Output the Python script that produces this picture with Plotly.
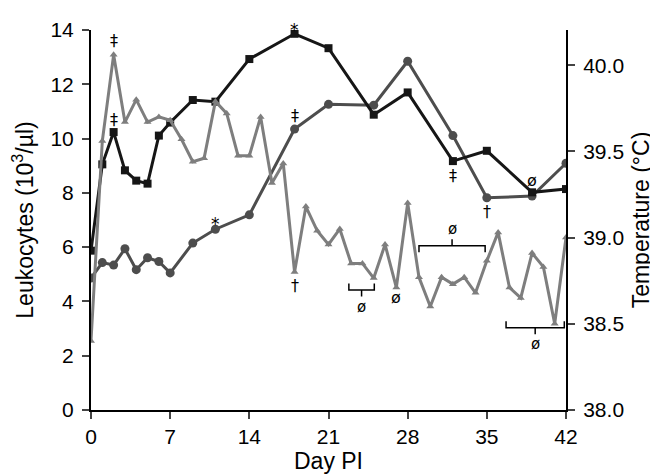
import plotly.graph_objects as go

# ---- data ----
days_sparse = [0, 1, 2, 3, 4, 5, 6, 7, 9, 11, 14, 18, 21, 25, 28, 32, 35, 39, 42]
leuko_black = [5.87, 9.05, 10.24, 8.83, 8.45, 8.34, 10.11, 10.59, 11.42, 11.36,
               12.93, 13.86, 13.33, 10.88, 11.70, 9.17, 9.55, 8.02, 8.14]
leuko_gray = [4.86, 5.43, 5.34, 5.94, 5.17, 5.61, 5.47, 5.05, 6.15, 6.66,
              7.19, 10.35, 11.26, 11.23, 12.85, 10.11, 7.82, 7.88, 9.09]
days_daily = list(range(0, 43))
temperature = [38.40, 39.56, 40.06, 39.67, 39.80, 39.67, 39.70, 39.68, 39.57, 39.44,
               39.46, 39.79, 39.72, 39.475, 39.475, 39.70, 39.316, 39.43, 38.80, 39.18,
               39.04, 38.96, 39.05, 38.85, 38.85, 38.765, 38.96, 38.71, 39.20, 38.77,
               38.60, 38.77, 38.73, 38.77, 38.68, 38.865, 39.03, 38.71, 38.65, 38.91,
               38.83, 38.50, 39.00]
x_ticks = [0, 7, 14, 21, 28, 35, 42]
y_ticks = [0, 2, 4, 6, 8, 10, 12, 14]
y2_ticks = [38.0, 38.5, 39.0, 39.5, 40.0]
y2_labels = ["38.0", "38.5", "39.0", "39.5", "40.0"]

# symbol marks: (series, day, symbol, yshift)
marks = [
    ("temp", 2, "‡", 14), ("black", 2, "‡", 13), ("black", 18, "*", 4),
    ("gray", 18, "‡", 14), ("gray", 11, "*", 5), ("black", 32, "‡", -14),
    ("gray", 35, "†", -14), ("black", 39, "ø", 12), ("temp", 18, "†", -13),
    ("temp", 27, "ø", -10),
]
# brackets on temperature axis: (start day, end day, level, direction)
brackets = [(22.8, 25.05, 38.696, -1), (29.0, 34.85, 38.953, 1), (36.7, 41.85, 38.477, -1)]

BLACK = "#161616"
DGRAY = "#4d4d4d"
LGRAY = "#7e7e7e"
FONT = "Liberation Sans, Arial, sans-serif"
SYMFONT = "DejaVu Sans, sans-serif"

fig = go.Figure()
fig.add_trace(go.Scatter(x=days_daily, y=temperature, yaxis="y2", mode="lines+markers",
                         line=dict(color=LGRAY, width=3),
                         marker=dict(symbol="triangle-up", size=7, color=LGRAY),
                         showlegend=False))
fig.add_trace(go.Scatter(x=days_sparse, y=leuko_gray, mode="lines+markers",
                         line=dict(color=DGRAY, width=3),
                         marker=dict(symbol="circle", size=9, color=DGRAY),
                         showlegend=False))
fig.add_trace(go.Scatter(x=days_sparse, y=leuko_black, mode="lines+markers",
                         line=dict(color=BLACK, width=3),
                         marker=dict(symbol="square", size=8, color=BLACK),
                         showlegend=False))

series = {"black": (days_sparse, leuko_black, "y"),
          "gray": (days_sparse, leuko_gray, "y"),
          "temp": (days_daily, temperature, "y2")}
for s, d, sym, ys in marks:
    xs, vals, yr = series[s]
    i = xs.index(d)
    size = 17 if sym == "*" else 16
    fig.add_annotation(x=xs[i], y=vals[i], xref="x", yref=yr, text=sym, showarrow=False,
                       yshift=ys, font=dict(family=SYMFONT, size=size, color="black"))

tick = 0.038
for x0, x1, lvl, dr in brackets:
    xc = (x0 + x1) / 2
    path = (f"M {x0},{lvl - dr * tick} L {x0},{lvl} L {x1},{lvl} L {x1},{lvl - dr * tick} "
            f"M {xc},{lvl} L {xc},{lvl + dr * tick}")
    fig.add_shape(type="path", path=path, xref="x", yref="y2",
                  line=dict(color="black", width=1.5))
    fig.add_annotation(x=xc, y=lvl + dr * tick, xref="x", yref="y2", text="ø",
                       showarrow=False, yshift=dr * 10,
                       font=dict(family=SYMFONT, size=15, color="black"))

axis_common = dict(ticks="outside", ticklen=7, tickwidth=2, showline=True,
                   linecolor="black", linewidth=2, showgrid=False, zeroline=False,
                   tickfont=dict(size=21), ticklabeloverflow="allow")

fig.update_layout(
    width=658, height=476,
    margin=dict(l=82, r=100, t=10, b=74),
    plot_bgcolor="white", paper_bgcolor="white",
    font=dict(family=FONT, size=21, color="black"),
    xaxis=dict(range=[0, 42], tickvals=x_ticks, **axis_common, ticklabelstandoff=0,
               title=dict(text="Day PI", font=dict(size=23), standoff=5)),
    yaxis=dict(range=[0, 14.0001], tickvals=y_ticks, **axis_common, ticklabelstandoff=4,
               title=dict(text="Leukocytes (10<sup>3</sup>/µl)", font=dict(size=23), standoff=16)),
    yaxis2=dict(range=[38, 40.204], tickvals=y2_ticks, ticktext=y2_labels, overlaying="y",
                side="right", **axis_common, ticklabelstandoff=4,
                title=dict(text="Temperature (°C)", font=dict(size=23), standoff=10)),
)

fig.write_html("out.html")
